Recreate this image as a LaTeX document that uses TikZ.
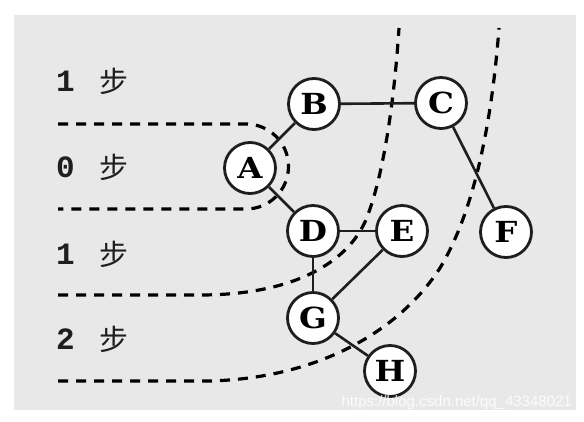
\documentclass[tikz,border=0pt]{standalone}
\usepackage{fontspec}
\newfontfamily\cjkfont{Noto Sans CJK SC}
\newfontfamily\digitfont{Liberation Mono}
\newfontfamily\wmfont{Liberation Sans}
\newfontfamily\vertexfont[FakeStretch=1.12]{DejaVu Serif}
\definecolor{bggray}{HTML}{E8E8E8}
\definecolor{ink}{HTML}{1E1E1E}
\tikzset{
  vertex/.style={circle, draw=ink, line width=2.8pt, fill=white, minimum size=51pt, inner sep=0pt,
    font=\vertexfont\bfseries\fontsize{29}{29}\selectfont},
  edge/.style={draw=ink, line width=2.6pt},
  level/.style={draw=black, line width=3.2pt, dash pattern=on 10pt off 8pt},
  stepnum/.style={anchor=west, inner sep=0pt, text=ink, font=\digitfont\bfseries\fontsize{31}{31}\selectfont},
  stepchar/.style={inner sep=0pt, text=ink, font=\cjkfont\fontsize{29}{29}\selectfont},
  watermark/.style={inner sep=0pt, text=white, opacity=0.85, font=\wmfont\fontsize{15}{15}\selectfont}
}
\begin{document}
\begin{tikzpicture}[x=1pt,y=-1pt]
\useasboundingbox (0,0) rectangle (584,422);
\fill[bggray] (14,15) rectangle (576,410);

% level boundaries
\draw[level] (58,124) -- (246,124) arc[start angle=90, end angle=-90, radius=42.5pt] -- (58,209);
\draw[level] (58,295) -- (200,295) .. controls (290,295) and (345,265) .. (365,222)
  .. controls (385,175) and (395,90) .. (399,28);
\draw[level] (58,381) -- (210,381) .. controls (320,378) and (400,330) .. (440,268)
  .. controls (475,210) and (492,120) .. (499,28);

% step labels
\node[stepnum] (n1) at (56,81) {1};
\node[stepchar] (s1) at (114,81) {步};
\node[stepnum] (n0) at (56,167) {0};
\node[stepchar] (s0) at (114,167) {步};
\node[stepnum] (n1b) at (56,254) {1};
\node[stepchar] (s1b) at (114,254) {步};
\node[stepnum] (n2) at (56,339) {2};
\node[stepchar] (s2) at (114,339) {步};

% vertices
\node[vertex] (A) at (250,168) {A};
\node[vertex] (B) at (314,104) {B};
\node[vertex] (C) at (441,103) {C};
\node[vertex] (D) at (313,231) {D};
\node[vertex] (E) at (402,231) {E};
\node[vertex] (F) at (506,232) {F};
\node[vertex] (G) at (313,318) {G};
\node[vertex] (H) at (390,371) {H};

% edges
\draw[edge] (A) -- (B);
\draw[edge] (A) -- (D);
\draw[edge] (B) -- (C);
\draw[edge] (C) -- (F);
\draw[edge] (D) -- (E);
\draw[edge] (D) -- (G);
\draw[edge] (E) -- (G);
\draw[edge] (G) -- (H);

\node[watermark, anchor=east] (wm) at (572,403) {https://blog.csdn.net/qq\_43348021};
\end{tikzpicture}
\end{document}
